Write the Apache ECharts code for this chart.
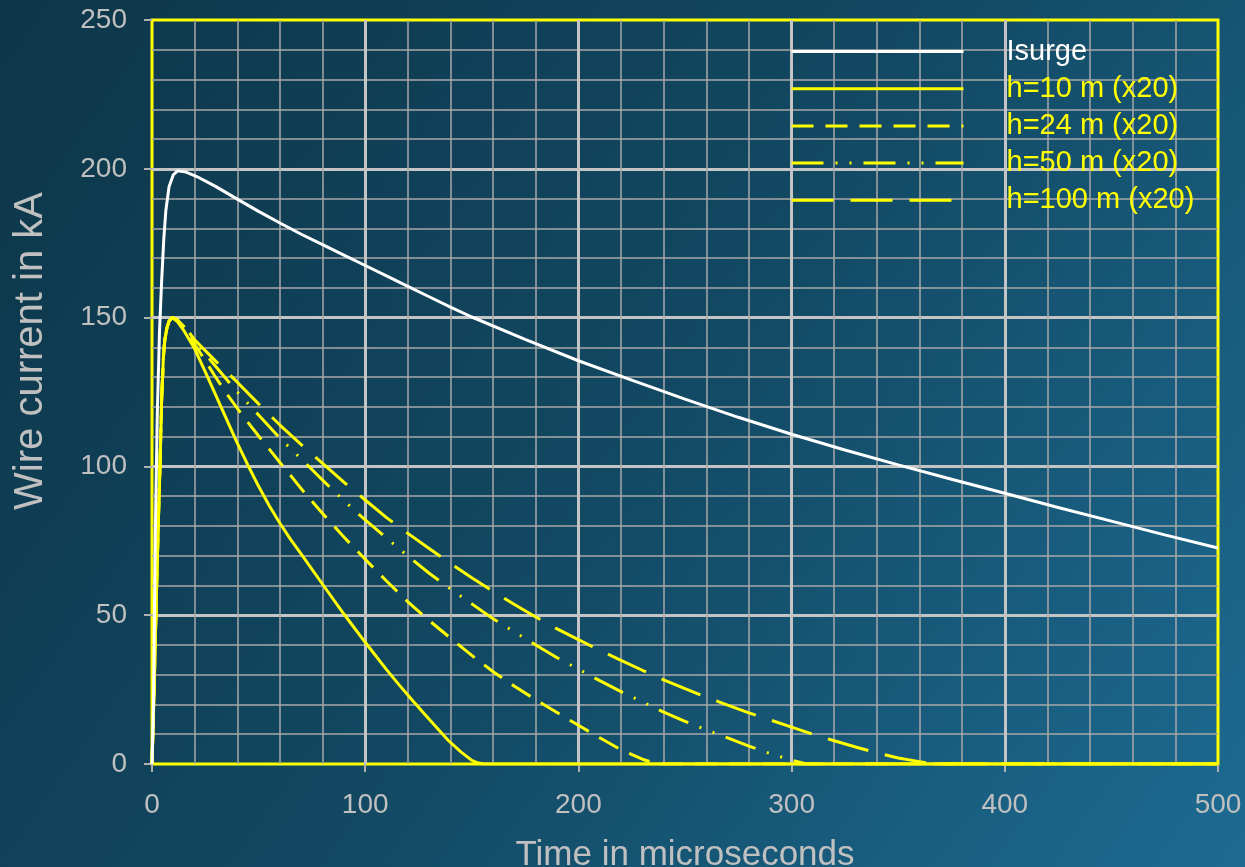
<!DOCTYPE html>
<html>
<head>
<meta charset="utf-8">
<script src="https://cdn.jsdelivr.net/npm/echarts@6/dist/echarts.min.js"></script>
<style>
html,body{margin:0;padding:0;width:1245px;height:867px;overflow:hidden;}
#c{width:1245px;height:867px;}
</style>
</head>
<body>
<div id="c"></div>
<script>
// ---- data (time in microseconds, current in kA) ----
const xTicks = [0, 100, 200, 300, 400, 500];
const yTicks = [0, 50, 100, 150, 200, 250];
const seriesNames = ['Isurge', 'h=10 m (x20)', 'h=24 m (x20)', 'h=50 m (x20)', 'h=100 m (x20)'];

const isurge = [[0,0],[0.7,20],[1.5,75],[2.5,118],[3.5,145],[4.5,162],[5.5,176],[6.5,186],[8,194],[10,198],[12,199.3],[16,198.9],[21,197.4],[30,194],[40,189.8],[50,185.7],[60,181.8],[70,178],[80,174.5],[90,171],[100,167.5],[110,164],[120,160.5],[130,157],[140,153.5],[150,150.2],[175,142.7],[200,135.5],[225,129],[250,122.6],[275,116.5],[300,110.8],[325,105.5],[350,100.5],[375,95.7],[400,91],[425,86.2],[450,81.6],[475,77],[500,72.6]];

const rise = [[0,0],[1,25],[2,55],[3,82],[3.75,100],[4.5,122],[5.3,136],[6,142.5],[7,146.5],[8,148.8],[9.5,150]];

const h10 = [[12,148.6],[15,145.6],[20,139.5],[25,131.8],[30,123.8],[35,115.8],[40,107.8],[45,100.4],[50,93.3],[55,86.8],[60,80.9],[65,75.5],[70,70.5],[80,60.4],[90,50.4],[100,40.9],[110,31.7],[116,26.5],[122,21.5],[130,15],[139,7.9],[145,4],[150,1.2],[153,0.3],[156,0],[500,0]];

const h24 = [[12,149],[15,146.6],[20,141],[25,135.5],[30,129.8],[35,124.5],[40,119.5],[45,114.8],[50,110.2],[55,105.8],[60,101.3],[65,97],[70,92.5],[75,88.3],[80,84.2],[85,80.2],[90,76.3],[95,72.5],[100,68.8],[110,61.5],[120,54.5],[130,48.2],[140,42.3],[150,36.5],[160,31],[170,26.1],[180,21.6],[190,17.3],[200,13],[210,8.8],[220,4.8],[230,1.6],[237,0],[500,0]];

const h50 = [[12,149.2],[15,147],[20,142],[30,133.5],[40,125],[50,117.3],[60,109.5],[70,102.5],[80,95.4],[90,88.5],[100,82],[110,75.9],[120,69.9],[130,64.1],[140,58.8],[150,53.8],[160,48.8],[170,44.4],[180,40],[190,35.7],[200,31.9],[210,28],[220,24.3],[230,20.9],[240,17.4],[250,14.3],[260,11.5],[270,8.8],[280,6],[290,3.5],[300,1.3],[307,0],[500,0]];

const h100 = [[12,149.3],[15,147.3],[20,142.5],[30,135.3],[40,128.3],[50,121],[60,113.9],[70,107.3],[80,101],[90,94.7],[100,88.7],[110,82.8],[120,77.5],[130,72.4],[140,67.4],[150,62.6],[160,58],[170,53.6],[180,49.4],[190,45.4],[200,41.8],[210,38.2],[220,34.8],[230,31.5],[240,28.3],[250,25.3],[260,22.4],[270,19.8],[280,17.2],[290,14.8],[300,12.4],[310,10],[320,7.8],[330,5.7],[340,3.8],[350,2],[360,0.8],[366,0],[500,0]];

// ---- chart ----
const FONT = "'Liberation Sans', Arial, sans-serif";
const GRAY = '#c0c0c0';
const YEL = '#ffff00';

const chart = echarts.init(document.getElementById('c'), null, {renderer: 'canvas'});

const yellowSeries = [
  {name: seriesNames[1], data: rise.concat(h10), dash: 'solid'},
  {name: seriesNames[2], data: rise.concat(h24), dash: [22, 12]},
  {name: seriesNames[3], data: rise.concat(h50), dash: [32, 12, 2, 12, 2, 12]},
  {name: seriesNames[4], data: rise.concat(h100), dash: [42, 17]}
];

const series = [{
  name: seriesNames[0], type: 'line', data: isurge, showSymbol: false, symbol: 'none',
  lineStyle: {color: '#ffffff', width: 3}, itemStyle: {color: '#ffffff'}, z: 3, animation: false
}].concat(yellowSeries.map(s => ({
  name: s.name, type: 'line', data: s.data, showSymbol: false, symbol: 'none',
  lineStyle: {color: YEL, width: 3, type: s.dash}, itemStyle: {color: YEL}, z: 2, animation: false
})));

chart.setOption({
  animation: false,
  backgroundColor: {
    type: 'linear', x: 0, y: 0, x2: 1, y2: 1,
    colorStops: [{offset: 0, color: '#0d3649'}, {offset: 0.5, color: '#124862'}, {offset: 1, color: '#1d6b92'}]
  },
  grid: {left: 152, right: 27, top: 20, bottom: 103, show: true, borderColor: YEL, borderWidth: 3,
         backgroundColor: 'transparent', containLabel: false, outerBoundsMode: 'none'},
  legend: {
    orient: 'vertical', left: 785, top: 32, itemWidth: 172, itemHeight: 20, itemGap: 8.2,
    textStyle: {fontSize: 29, fontFamily: FONT, padding: [0, 0, 0, 38]},
    itemStyle: {opacity: 0, borderWidth: 0},
    lineStyle: {width: 3},
    data: seriesNames.map((n, i) => ({name: n, textStyle: {color: i === 0 ? '#ffffff' : YEL}}))
  },
  xAxis: {
    type: 'value', min: xTicks[0], max: xTicks[xTicks.length - 1], interval: 100,
    name: 'Time in microseconds', nameLocation: 'middle', nameGap: 74,
    nameTextStyle: {color: GRAY, fontSize: 35, fontFamily: FONT},
    axisLine: {show: false},
    axisTick: {show: true, length: 8, lineStyle: {color: '#b0b0b0', width: 2}},
    axisLabel: {color: GRAY, fontSize: 28, fontFamily: FONT, margin: 27},
    splitLine: {show: true, showMinLine: false, showMaxLine: false, lineStyle: {color: '#c4c4c4', width: 3}},
    minorTick: {show: false, splitNumber: 5},
    minorSplitLine: {show: true, lineStyle: {color: '#a8a8a8', width: 1.5}}
  },
  yAxis: {
    type: 'value', min: yTicks[0], max: yTicks[yTicks.length - 1], interval: 50,
    name: 'Wire current in kA', nameLocation: 'middle', nameGap: 101,
    nameTextStyle: {color: GRAY, fontSize: 40, fontFamily: FONT, padding: [0, 0, 0, 82]},
    axisLine: {show: false},
    axisTick: {show: true, length: 8, lineStyle: {color: '#b0b0b0', width: 2}},
    axisLabel: {color: GRAY, fontSize: 28, fontFamily: FONT, margin: 25},
    splitLine: {show: true, showMinLine: false, showMaxLine: false, lineStyle: {color: '#c4c4c4', width: 3}},
    minorTick: {show: false, splitNumber: 5},
    minorSplitLine: {show: true, lineStyle: {color: '#a8a8a8', width: 1.5}}
  },
  series: series
});
</script>
</body>
</html>
